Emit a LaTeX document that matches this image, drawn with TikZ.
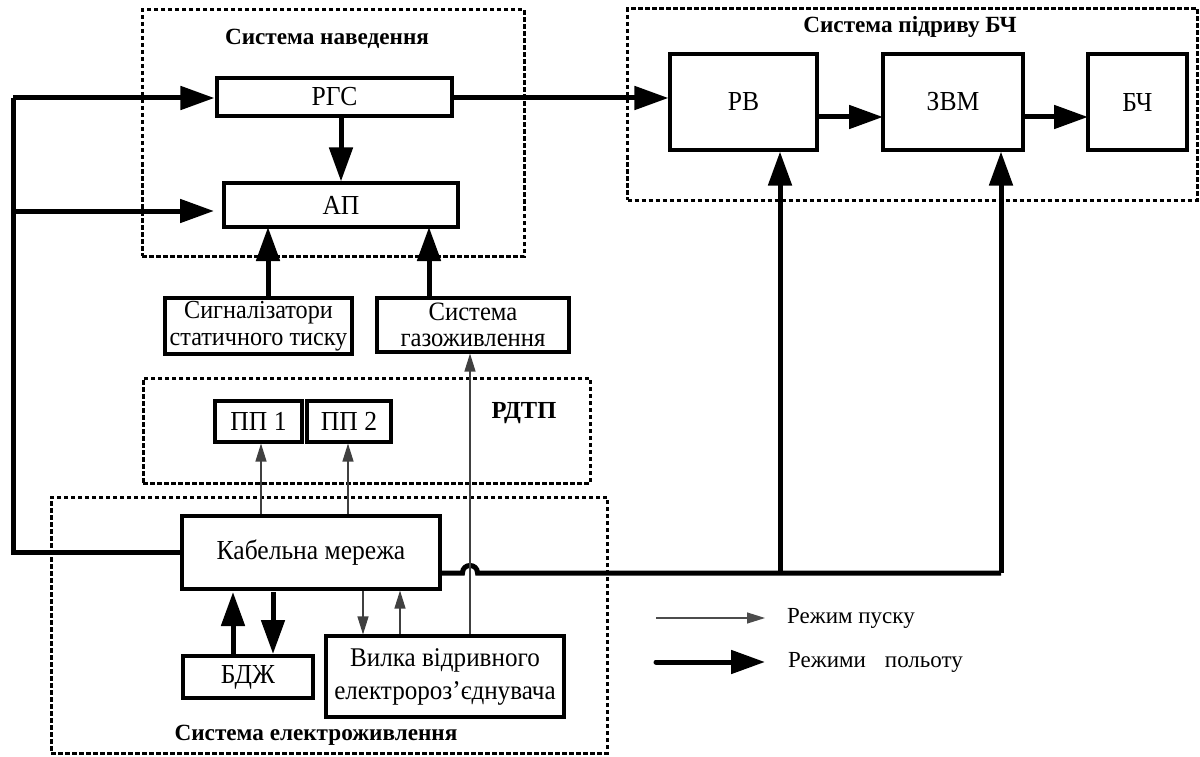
\documentclass[tikz,border=0pt]{standalone}
\usepackage{fontspec}
\setmainfont{Liberation Serif}
\newfontfamily\condfont[FakeStretch=0.93]{Liberation Serif}
\usetikzlibrary{arrows.meta}
\begin{document}
\begin{tikzpicture}[x=1pt,y=-1pt,
  box/.style={draw, line width=3.1pt, inner sep=0pt, align=center, font=\condfont\fontsize{27.5}{28}\selectfont},
  group/.style={draw, line width=3pt, dash pattern=on 4.5pt off 2.5pt, inner sep=0pt},
  title/.style={font=\fontsize{23.2}{25}\selectfont\bfseries, inner sep=0pt},
  fat/.style={line width=5pt, -{Triangle[length=34pt,width=23pt]}},
  fatline/.style={line width=5pt},
  lean/.style={line width=1.2pt, draw=black!75, -{Triangle[length=18pt,width=11pt]}},
  legend/.style={font=\fontsize{23}{25}\selectfont, inner sep=0pt, anchor=west}]
\path[use as bounding box] (0,0) rectangle (1200,757);
% groups
\node[group, minimum width=382pt, minimum height=246pt] (gnav) at (333,133) {};
\node[group, minimum width=570pt, minimum height=191pt] (gdet) at (912.5,104.5) {};
\node[group, minimum width=447pt, minimum height=105pt] (grdtp) at (366.5,430.5) {};
\node[group, minimum width=556pt, minimum height=256pt] (gpow) at (329,625) {};
\node[title] (tnav) at (327,39) {Система наведення};
\node[title] (tdet) at (910,27) {Система підриву БЧ};
\node[title, font=\fontsize{24.5}{26}\selectfont\bfseries] (trdtp) at (524,413) {РДТП};
\node[title] (tpow) at (316,735) {Система електроживлення};
% boxes
\node[box, minimum width=235pt, minimum height=38pt] (rgs) at (334.5,97) {РГС};
\node[box, minimum width=234pt, minimum height=44pt] (ap) at (341,205) {АП};
\node[box, minimum width=187pt, minimum height=56pt, font=\condfont\fontsize{26}{27}\selectfont] (sig) at (258.5,326) {Сигналізатори\\статичного тиску};
\node[box, minimum width=192pt, minimum height=54pt, font=\condfont\fontsize{26.5}{26}\selectfont] (gas) at (473,325) {Система\\газоживлення};
\node[box, minimum width=147pt, minimum height=96pt] (rv) at (743.5,102) {РВ};
\node[box, minimum width=140pt, minimum height=96pt] (zvm) at (953,102) {ЗВМ};
\node[box, minimum width=99pt, minimum height=96pt] (bch) at (1137.5,102) {БЧ};
\node[box, minimum width=87pt, minimum height=41pt] (pp1) at (258.5,421.5) {ПП 1};
\node[box, minimum width=84pt, minimum height=41pt] (pp2) at (349,421.5) {ПП 2};
\node[box, minimum width=258pt, minimum height=73pt] (kab) at (311,552.5) {Кабельна мережа};
\node[box, minimum width=130pt, minimum height=42pt] (bdzh) at (248,677) {БДЖ};
\node[box, minimum width=238pt, minimum height=81pt, font=\condfont\fontsize{27}{33}\selectfont] (vyl) at (445,676.5) {Вилка відривного\\електророз’єднувача};
% coordinates
\coordinate (busB) at (13,552.5);
\coordinate (busT) at (13,98);
\coordinate (busM) at (13,211);
\coordinate (hopL) at (462.5,573);
\coordinate (hopR) at (477.5,573);
\coordinate (jrv) at (780,573);
\coordinate (jzvm) at (1001,573);
% flight-mode connectors
\draw[fatline, line join=miter] (kab.west) -- (busB) -- (busT);
\draw[fat, shorten >=1pt] (busT) -- (rgs.west |- busT);
\draw[fat] (busM) -- (214,211);
\draw[fat] (rgs.south -| ap.north) -- (ap.north);
\draw[fat] (sig.north -| 268,0) -- (268,227);
\draw[fat] (gas.north -| 429,0) -- (429,227);
\draw[fat] (rgs.east |- busT) -- (busT -| rv.west);
\draw[fat] (817,117) -- (883,117);
\draw[fat] (1023,117) -- (1088,117);
\draw[fatline] (kab.east |- hopL) -- (hopL) .. controls (462.5,563) and (477.5,563) .. (hopR) -- (jzvm);
\draw[fat] (jrv) -- (rv.south -| jrv);
\draw[fat] (jzvm) -- (zvm.south -| jzvm);
\draw[fat] (bdzh.north -| 233,0) -- (233,592);
\draw[fat] (273,592) -- (273,654);
% launch-mode connectors
\draw[lean] (kab.north -| 261,0) -- (pp1.south -| 261,0);
\draw[lean] (kab.north -| 348,0) -- (pp2.south -| 348,0);
\draw[lean] (vyl.north -| 470,0) -- (gas.south -| 470,0);
\draw[lean] (kab.south -| 363,0) -- (vyl.north -| 363,0);
\draw[lean] (vyl.north -| 400,0) -- (kab.south -| 400,0);
% legend
\coordinate (l1a) at (656,618);
\coordinate (l1b) at (765,618);
\coordinate (l2a) at (656,662);
\coordinate (l2b) at (765,662);
\draw[lean, draw=black!70] (l1a) -- (l1b);
\draw[fat, line cap=round] (l2a) -- (l2b);
\node[legend] (lg1) at (787,618) {Режим пуску};
\node[legend] (lg2) at (788,662) {Режими\hspace{19pt}польоту};
\end{tikzpicture}
\end{document}
